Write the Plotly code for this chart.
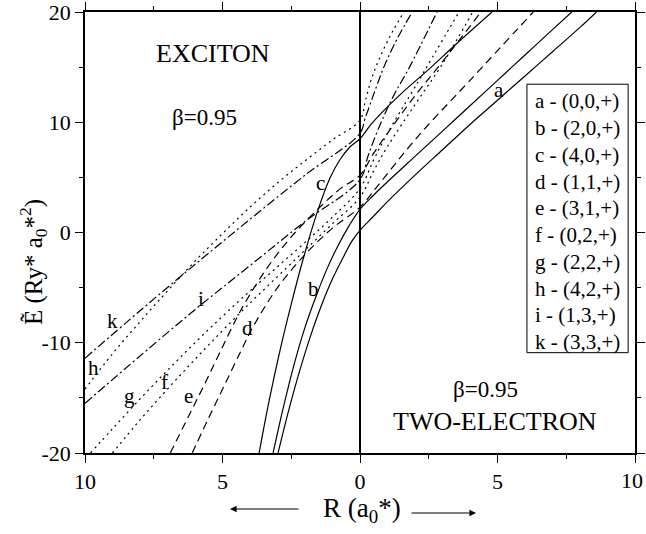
import plotly.graph_objects as go

# ---------------- data (x < 0: exciton side, x > 0: two-electron side) -------------
a_x = [-2.98, -2.6, -2.2, -1.8, -1.4, -1.0, -0.6, -0.3, 0.0, 0.5, 1.0, 2.0, 3.0, 4.0, 5.0, 6.0, 7.0, 8.0, 8.6]
a_y = [-20.0, -16.2, -12.6, -9.4, -6.6, -4.2, -2.2, -0.8, 0.2, 1.5, 2.8, 5.2, 7.5, 9.8, 12.0, 14.2, 16.4, 18.6, 20.0]

b_x = [-3.16, -2.8, -2.4, -2.0, -1.6, -1.2, -0.8, -0.4, 0.0, 0.5, 1.0, 2.0, 3.0, 4.0, 5.0, 6.0, 7.0, 7.7]
b_y = [-20.0, -16.0, -12.0, -8.6, -5.8, -3.3, -1.2, 0.6, 2.1, 3.4, 4.6, 6.9, 9.2, 11.5, 13.8, 16.1, 18.4, 20.0]

c_x = [-3.67, -3.3, -2.9, -2.5, -2.1, -1.56, -1.1, -0.73, -0.35, 0.0, 0.4, 0.8, 1.5, 2.5, 3.5, 4.8]
c_y = [-20.0, -15.2, -10.6, -6.5, -2.7, 1.8, 4.9, 6.6, 7.8, 8.5, 9.8, 10.9, 12.6, 14.8, 17.1, 20.0]

d_x = [-6.1, -5.5, -4.9, -4.3, -3.9, -3.0, -2.0, -1.0, 0.0, 0.6, 2.1, 4.0, 6.3]
d_y = [-20.0, -16.8, -13.7, -10.6, -8.6, -5.0, -2.0, 0.4, 2.3, 4.1, 8.7, 13.8, 20.0]

e_x = [-6.9, -6.3, -5.7, -5.1, -4.3, -3.4, -2.5, -1.5, -0.7, 0.0, 0.5, 1.0, 2.0, 3.0, 4.4]
e_y = [-20.0, -17.0, -14.0, -10.9, -6.9, -3.3, -0.4, 2.2, 4.0, 5.2, 7.2, 9.0, 12.4, 15.5, 20.0]

f_x = [-9.0, -8.0, -7.0, -6.0, -5.0, -4.0, -3.0, -2.0, -1.0, 0.0, 0.5, 1.0, 2.0, 3.0, 4.1]
f_y = [-20.0, -17.0, -14.2, -11.5, -8.9, -6.4, -4.0, -1.6, 0.8, 3.2, 5.6, 7.8, 11.6, 15.3, 20.0]

g_x = [-9.8, -9.0, -8.0, -7.0, -6.0, -5.0, -4.0, -3.0, -2.0, -1.0, 0.0, 0.5, 1.0, 2.0, 3.6]
g_y = [-20.0, -17.8, -15.1, -12.5, -10.0, -7.6, -5.3, -3.1, -0.9, 1.4, 4.0, 6.6, 9.0, 13.2, 20.0]

h_x = [-10.0, -9.0, -8.0, -7.0, -6.0, -5.0, -4.0, -3.0, -2.0, -1.0, 0.0, 0.2, 0.44, 0.8, 1.2, 1.6]
h_y = [-14.2, -11.0, -8.1, -5.3, -2.6, -0.1, 2.3, 4.5, 6.5, 8.4, 10.2, 12.0, 14.1, 16.3, 18.3, 20.0]

i_x = [-10.0, -8.0, -6.0, -4.0, -2.0, 0.0, 0.3, 0.7, 1.2, 1.8, 2.8]
i_y = [-15.5, -11.2, -7.0, -3.0, 1.0, 4.8, 7.0, 9.6, 12.3, 15.0, 20.0]

k_x = [-10.0, -8.0, -6.0, -4.0, -2.0, 0.0, 0.18, 0.55, 0.9, 1.38, 1.9]
k_y = [-11.4, -7.1, -2.9, 1.2, 5.2, 9.0, 10.3, 12.9, 15.2, 17.7, 20.0]

curve_names = ["a", "b", "c", "d", "e", "f", "g", "h", "i", "k"]
curve_x = [a_x, b_x, c_x, d_x, e_x, f_x, g_x, h_x, i_x, k_x]
curve_y = [a_y, b_y, c_y, d_y, e_y, f_y, g_y, h_y, i_y, k_y]
curve_dash = ["solid", "solid", "solid", "8px,5px", "8px,5px",
              "2px,4px", "2px,4px", "2px,4px", "9px,3px,2px,3px", "9px,3px,2px,3px"]

# in-plot curve labels
label_text = ["a", "b", "c", "d", "e", "f", "g", "h", "i", "k"]
label_x = [5.05, -1.7, -1.45, -4.1, -6.25, -7.1, -8.4, -9.7, -5.8, -9.0]
label_y = [12.9, -5.1, 4.45, -8.7, -14.8, -13.6, -14.8, -12.3, -6.0, -8.0]

legend_rows = ["a - (0,0,+)", "b - (2,0,+)", "c - (4,0,+)", "d - (1,1,+)", "e - (3,1,+)",
               "f - (0,2,+)", "g - (2,2,+)", "h - (4,2,+)", "i - (1,3,+)", "k - (3,3,+)"]

x_tickvals = [-10, -5, 0, 5, 10]
x_ticktext = ["10", "5", "0", "5", ""]   # last label drawn separately so it stays inside the page
x_last_label = "10"
y_tickvals = [-20, -10, 0, 10, 20]
y_ticktext = ["-20", "-10", "0", "10", "20"]

FONT = "Liberation Serif, Times New Roman, DejaVu Serif, serif"

fig = go.Figure()
for xs, ys, dash in zip(curve_x, curve_y, curve_dash):
    fig.add_trace(go.Scatter(x=xs, y=ys, mode="lines", line_shape="spline",
                             line=dict(color="black", width=1.2, dash=dash),
                             showlegend=False, hoverinfo="skip"))

ann = []
for t, x, y in zip(label_text, label_x, label_y):
    ann.append(dict(x=x, y=y, text=t, showarrow=False, font=dict(family=FONT, size=21, color="black")))

ann += [
    dict(x=-5.35, y=16.2, text="EXCITON", showarrow=False, font=dict(family=FONT, size=26, color="black")),
    dict(x=-5.64, y=10.4, text="β=0.95", showarrow=False, font=dict(family=FONT, size=23, color="black")),
    dict(x=4.55, y=-14.2, text="β=0.95", showarrow=False, font=dict(family=FONT, size=23, color="black")),
    dict(x=4.9, y=-17.1, text="TWO-ELECTRON", showarrow=False, font=dict(family=FONT, size=26, color="black")),
]

# legend (text only, boxed)
row_top = 11.9
row_step = 26.7 / 11.0
for j, row in enumerate(legend_rows):
    ann.append(dict(x=6.29, y=row_top - j * row_step, text=row, showarrow=False, xanchor="left",
                    font=dict(family=FONT, size=21, color="black")))

# axis titles and arrows (plot area: 85..635 px wide, 12..453 px high)
def px_x(p):
    return (p - 85) / 550.0

def px_y(p):
    return (453 - p) / 441.0

ann += [
    dict(xref="x domain", yref="y domain", x=px_x(645), y=px_y(480), text=x_last_label,
         showarrow=False, xanchor="right", yanchor="middle", font=dict(family=FONT, size=22, color="black")),
    dict(xref="x domain", yref="y domain", x=px_x(362), y=px_y(510), text="R (a<sub>0</sub>*)",
         showarrow=False, yanchor="middle", font=dict(family=FONT, size=27, color="black")),
    dict(xref="x domain", yref="y domain", x=px_x(230), y=px_y(509), ax=px_x(300), ay=px_y(509),
         axref="x domain", ayref="y domain", text="", showarrow=True, arrowhead=2, arrowsize=1.1,
         arrowwidth=1.2, arrowcolor="black"),
    dict(xref="x domain", yref="y domain", x=px_x(476), y=px_y(513), ax=px_x(410), ay=px_y(513),
         axref="x domain", ayref="y domain", text="", showarrow=True, arrowhead=2, arrowsize=1.1,
         arrowwidth=1.2, arrowcolor="black"),
    dict(xref="x domain", yref="y domain", x=px_x(33), y=px_y(262), text="Ẽ (Ry* a<sub>0</sub>*<sup>2</sup>)",
         textangle=-90, showarrow=False, xanchor="center", yanchor="middle",
         font=dict(family=FONT, size=25, color="black")),
]

shapes = [
    dict(type="line", x0=0, x1=0, y0=-20, y1=20, line=dict(color="black", width=2)),
    dict(type="rect", x0=6.07, x1=9.75, y0=-10.9, y1=13.45, line=dict(color="black", width=1)),
]

fig.update_layout(
    width=646, height=534,
    margin=dict(l=85, r=11, t=12, b=81, autoexpand=False),
    paper_bgcolor="white", plot_bgcolor="white",
    annotations=ann, shapes=shapes,
    font=dict(family=FONT, color="black"),
)
fig.update_xaxes(range=[-10, 10], tickvals=x_tickvals, ticktext=x_ticktext, automargin=False,
                 ticklabeloverflow="allow",
                 ticks="outside", ticklen=8, tickwidth=1.2, tickcolor="black",
                 minor=dict(dtick=2.5, tick0=0, ticks="outside", ticklen=4, tickcolor="black", tickwidth=1.2),
                 showline=True, linecolor="black", linewidth=1.5, mirror="allticks",
                 showgrid=False, zeroline=False, tickfont=dict(family=FONT, size=22, color="black"))
fig.update_yaxes(range=[-20, 20], tickvals=y_tickvals, ticktext=y_ticktext, automargin=False,
                 ticklabeloverflow="allow",
                 ticks="outside", ticklen=8, tickwidth=1.2, tickcolor="black",
                 minor=dict(dtick=5, tick0=0, ticks="outside", ticklen=4, tickcolor="black", tickwidth=1.2),
                 showline=True, linecolor="black", linewidth=1.5, mirror="allticks",
                 showgrid=False, zeroline=False, tickfont=dict(family=FONT, size=22, color="black"))

# remove the browser's default 8px body margin so the figure sits at the page origin
fig.write_html("out.html", config={"displayModeBar": False},
               post_script="document.body.style.margin='0px';document.body.style.overflow='hidden';")
